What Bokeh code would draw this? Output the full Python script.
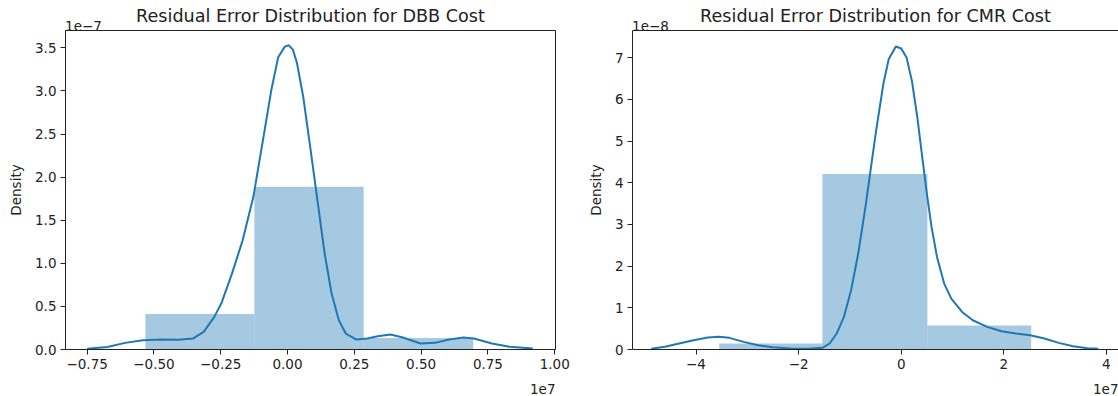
from bokeh.plotting import figure
from bokeh.layouts import row
from bokeh.models import Range1d, FixedTicker, CustomJSTickFormatter, Label, LinearAxis
from bokeh.embed import file_html
from bokeh.resources import INLINE

# ---------------- data (x in units of 1e7, density in units shown by offset text) -------------
dbb_title = "Residual Error Distribution for DBB Cost"
dbb_bin_edges = [-0.532, -0.124, 0.285, 0.695]          # 1e7
dbb_bin_density = [0.413, 1.889, 0.134]                  # 1e-7
dbb_kde_x = [-0.750, -0.674, -0.608, -0.541, -0.474, -0.408, -0.354, -0.314, -0.274, -0.248,
             -0.208, -0.168, -0.128, -0.088, -0.061, -0.035, -0.010, 0.005, 0.020, 0.035,
             0.059, 0.085, 0.112, 0.139, 0.165, 0.192, 0.218, 0.258, 0.298, 0.338,
             0.385, 0.432, 0.498, 0.552, 0.605, 0.658, 0.698, 0.765, 0.831, 0.918]
dbb_kde_y = [0.010, 0.030, 0.077, 0.108, 0.116, 0.112, 0.127, 0.205, 0.379, 0.533,
             0.881, 1.267, 1.769, 2.503, 3.005, 3.391, 3.515, 3.530, 3.480, 3.330,
             2.928, 2.348, 1.730, 1.112, 0.649, 0.340, 0.185, 0.116, 0.127, 0.154,
             0.174, 0.139, 0.070, 0.077, 0.116, 0.139, 0.127, 0.070, 0.031, 0.012]
dbb_xticks = [-0.75, -0.5, -0.25, 0.0, 0.25, 0.5, 0.75, 1.0]
dbb_yticks = [0.0, 0.5, 1.0, 1.5, 2.0, 2.5, 3.0, 3.5]
dbb_y_offset_text = "1e\u22127"
dbb_x_offset_text = "1e7"

cmr_title = "Residual Error Distribution for CMR Cost"
cmr_bin_edges = [-3.546, -1.536, 0.510, 2.534]           # 1e7
cmr_bin_density = [0.144, 4.21, 0.574]                   # 1e-8
cmr_kde_x = [-4.873, -4.607, -4.328, -4.049, -3.770, -3.560, -3.350, -3.070, -2.790, -2.510,
             -2.160, -1.815, -1.536, -1.396, -1.257, -1.117, -0.977, -0.838, -0.698, -0.607,
             -0.489, -0.349, -0.244, -0.105, 0.000, 0.105, 0.209, 0.314, 0.419, 0.510,
             0.593, 0.698, 0.838, 0.977, 1.187, 1.396, 1.675, 1.955, 2.234, 2.513,
             2.792, 3.071, 3.351, 3.630, 3.839]
cmr_kde_y = [0.020, 0.064, 0.144, 0.223, 0.287, 0.303, 0.279, 0.183, 0.104, 0.056,
             0.024, 0.016, 0.040, 0.144, 0.383, 0.780, 1.420, 2.300, 3.410, 4.210,
             5.250, 6.360, 6.960, 7.265, 7.220, 7.000, 6.440, 5.570, 4.530, 3.650,
             2.930, 2.220, 1.580, 1.220, 0.901, 0.702, 0.542, 0.439, 0.383, 0.343,
             0.263, 0.159, 0.080, 0.032, 0.016]
cmr_xticks = [-4, -2, 0, 2, 4]
cmr_yticks = [0, 1, 2, 3, 4, 5, 6, 7]
cmr_y_offset_text = "1e\u22128"
cmr_x_offset_text = "1e7"

FONT = "DejaVu Sans"
TXT = "#222222"
BLUE = "#1f77b4"
TICK_PX = "13.5px"


def fmt(dec):
    return CustomJSTickFormatter(
        code="return (tick < 0 ? '\\u2212' : '') + Math.abs(tick).toFixed(%d);" % dec)


def make_fig(title, edges, dens, kx, ky, xr, yr, xticks, yticks, xdec, ydec,
             ytxt, xtxt, width, bl, br, outline):
    p = figure(width=width, height=396, output_backend="svg", toolbar_location=None,
               x_range=Range1d(*xr), y_range=Range1d(*yr),
               min_border_left=bl, min_border_right=br, min_border_top=30,
               min_border_bottom=47)

    p.quad(left=edges[:-1], right=edges[1:], bottom=0, top=dens,
           fill_color=BLUE, fill_alpha=0.4, line_color=None)
    p.line(kx, ky, line_color=BLUE, line_width=2)

    p.xgrid.visible = False
    p.ygrid.visible = False
    for ax, ticks, dec in ((p.xaxis[0], xticks, xdec), (p.yaxis[0], yticks, ydec)):
        ax.ticker = FixedTicker(ticks=ticks)
        ax.formatter = fmt(dec)
        ax.major_label_text_font = FONT
        ax.major_label_text_font_size = TICK_PX
        ax.major_label_text_color = TXT
        ax.major_tick_out = 5
        ax.major_tick_in = 0
        ax.minor_tick_line_color = None
        ax.major_tick_line_color = TXT
        ax.axis_line_color = TXT
        ax.major_label_standoff = 4
    p.yaxis.axis_label = "Density"
    p.yaxis.axis_label_text_font = FONT
    p.yaxis.axis_label_text_font_size = TICK_PX
    p.yaxis.axis_label_text_font_style = "normal"
    p.yaxis.axis_label_text_color = TXT
    p.yaxis.axis_label_standoff = 8

    p.outline_line_color = TXT if outline else None
    p.outline_line_width = 1

    # top spine + matplotlib offset text (as the lone tick label) + chart title (axis label)
    scale = (width - bl - br) / (xr[1] - xr[0])           # px per data unit
    offset_label_center = xr[0] + 18.0 / scale           # left-aligned with the frame
    top = LinearAxis(ticker=FixedTicker(ticks=[offset_label_center]),
                     formatter=CustomJSTickFormatter(code="return %r;" % ytxt),
                     major_tick_out=0, major_tick_in=0, major_tick_line_color=None,
                     minor_tick_line_color=None, axis_line_color=TXT,
                     major_label_standoff=0, major_label_text_font=FONT,
                     major_label_text_font_size=TICK_PX, major_label_text_color=TXT,
                     axis_label=title, axis_label_text_font=FONT,
                     axis_label_text_font_size="17.6px", axis_label_text_font_style="normal",
                     axis_label_text_color=TXT, axis_label_standoff=-8)
    p.add_layout(top, "above")

    # x offset text under the axis, right-aligned with the frame
    p.add_layout(Label(x=xr[1], y=yr[0], y_offset=-44, text=xtxt, text_align="right",
                       text_baseline="bottom", text_font=FONT,
                       text_font_size=TICK_PX, text_color=TXT), "below")
    return p


p1 = make_fig(dbb_title, dbb_bin_edges, dbb_bin_density, dbb_kde_x, dbb_kde_y,
              (-0.831, 1.003), (0, 3.702), dbb_xticks, dbb_yticks, 2, 1,
              dbb_y_offset_text, dbb_x_offset_text, 575, 65, 20, True)
p2 = make_fig(cmr_title, cmr_bin_edges, cmr_bin_density, cmr_kde_x, cmr_kde_y,
              (-5.238, 4.236), (0, 7.65), cmr_xticks, cmr_yticks, 0, 0,
              cmr_y_offset_text, cmr_x_offset_text, 543, 57, 0, False)

layout = row(p1, p2)
open("out.html", "w").write(file_html(layout, INLINE))
